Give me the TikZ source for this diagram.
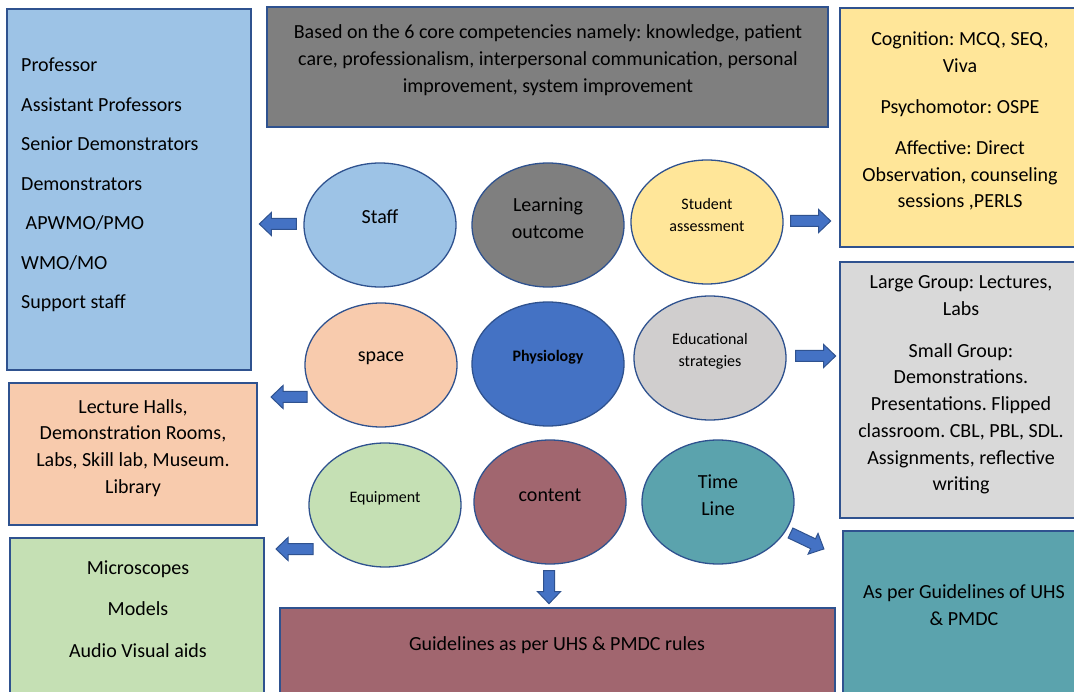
\documentclass[tikz,border=0pt]{standalone}
\usepackage{fontspec}
\setmainfont{Carlito}
\usetikzlibrary{calc,fit,shapes.geometric}
\definecolor{edge}{HTML}{2F528F}
\definecolor{arrowfill}{HTML}{4472C4}
\definecolor{cblue}{HTML}{9DC3E6}
\definecolor{cgray}{HTML}{7F7F7F}
\definecolor{cyellow}{HTML}{FFE699}
\definecolor{clgray}{HTML}{D9D9D9}
\definecolor{cesgray}{HTML}{D0CECE}
\definecolor{corange}{HTML}{F8CBAD}
\definecolor{cgreen}{HTML}{C5E0B4}
\definecolor{cmaroon}{HTML}{A1666F}
\definecolor{cteal}{HTML}{5BA3AD}
\definecolor{cphys}{HTML}{4472C4}
\tikzset{
  box/.style={draw=edge, line width=1.3pt, rectangle, inner sep=0pt},
  ell/.style={draw=edge, line width=1.3pt, ellipse, minimum width=152pt, minimum height=124pt, inner sep=0pt},
  txt/.style={font=\fontsize{20}{26.7}\selectfont\frenchspacing, align=center, inner sep=0pt, text=black},
  stxt/.style={font=\fontsize{16}{22}\selectfont\frenchspacing, align=center, inner sep=0pt, text=black},
  barrow/.style={fill=arrowfill, draw=edge, line width=1pt, line join=miter},
}
\newcommand\blockarr[3]{%
  \begin{scope}[shift={#1}, rotate=#2]
    \draw[barrow] (0,-5.5) -- ({#3-12},-5.5) -- ({#3-12},-11.5) -- (#3,0) -- ({#3-12},11.5) -- ({#3-12},5.5) -- (0,5.5) -- cycle;
  \end{scope}}
\begin{document}
\begin{tikzpicture}[x=1pt,y=-1pt]
\path[use as bounding box] (0,0) rectangle (1074,692);
\clip (0,0) rectangle (1074,692);
\fill[white] (0,0) rectangle (1074,692);

% boxes
\node[box, fill=cblue, fit={(7,9) (251,370)}] (staffbox) {};
\node[box, fill=cgray, fit={(267,7) (828,127)}] (lobox) {};
\node[box, fill=cyellow, fit={(840,8) (1085,247)}] (sabox) {};
\node[box, fill=clgray, fit={(840,262) (1085,518)}] (esbox) {};
\node[box, fill=corange, fit={(9,383) (257,525)}] (spacebox) {};
\node[box, fill=cgreen, fit={(10,538) (264,705)}] (eqbox) {};
\node[box, fill=cmaroon, fit={(280,608) (835,705)}] (contentbox) {};
\node[box, fill=cteal, fit={(843,531) (1085,705)}] (tlbox) {};

% box texts
\node[txt, align=left, anchor=west] (stafftxt) at (21,185) {Professor\\[12.8pt]
Assistant Professors\\[12.8pt]
Senior Demonstrators\\[12.8pt]
Demonstrators\\[12.8pt]
\hspace{4.5pt}APWMO/PMO\\[12.8pt]
WMO/MO\\[12.8pt]
Support staff};
\node[txt] (lotxt) at (548,60) {Based on the 6 core competencies namely: knowledge, patient\\
care, professionalism, interpersonal communication, personal\\
improvement, system improvement};
\node[txt] (satxt) at (960,121) {Cognition: MCQ, SEQ,\\ Viva\\[14.5pt]
Psychomotor: OSPE\\[14.5pt]
Affective: Direct\\ Observation, counseling\\ sessions ,PERLS};
\node[txt] (estxt) at (961,385) {Large Group: Lectures,\\ Labs\\[15pt]
Small Group:\\ Demonstrations.\\ Presentations. Flipped\\ classroom. CBL, PBL, SDL.\\ Assignments, reflective\\ writing};
\node[txt] (spacetxt) at (133,448) {Lecture Halls,\\ Demonstration Rooms,\\ Labs, Skill lab, Museum.\\ Library};
\node[txt] (eqtxt) at (138,609) {Microscopes\\[14.5pt] Models\\[14.5pt] Audio Visual aids};
\node[txt] (contenttxt) at (557,645) {Guidelines as per UHS \& PMDC rules};
\node[txt] (tltxt) at (964,605) {As per Guidelines of UHS\\ \& PMDC};

% ellipses
\node[ell, fill=cblue] (staff) at (380,225) {};
\node[ell, fill=cgray] (lo) at (548,225) {};
\node[ell, fill=cyellow] (sa) at (707,222) {};
\node[ell, fill=corange] (space) at (381,365) {};
\node[ell, fill=cphys] (phys) at (548,364) {};
\node[ell, fill=cesgray] (es) at (710,358) {};
\node[ell, fill=cgreen] (eq) at (385,505) {};
\node[ell, fill=cmaroon] (content) at (550,502) {};
\node[ell, fill=cteal] (tl) at (718,502) {};

% ellipse texts
\node[txt] (stafflbl) at ($(staff.center)+(0,-8)$) {Staff};
\node[txt] (lolbl) at ($(lo.center)+(0,-7)$) {Learning\\ outcome};
\node[stxt] (salbl) at ($(sa.center)+(0,-7)$) {Student\\ assessment};
\node[txt] (spacelbl) at ($(space.center)+(0,-7)$) {space};
\node[stxt, font=\fontsize{16}{22}\selectfont\bfseries] (physlbl) at ($(phys.center)+(0,-7)$) {Physiology};
\node[stxt] (eslbl) at ($(es.center)+(0,-7)$) {Educational\\ strategies};
\node[stxt] (eqlbl) at ($(eq.center)+(0,-7)$) {Equipment};
\node[txt] (contentlbl) at ($(content.center)+(0,-7)$) {content};
\node[txt] (tllbl) at ($(tl.center)+(0,-7)$) {Time\\ Line};

% block arrows
\blockarr{($(staff.west)+(-7,-1)$)}{180}{37}
\blockarr{($(space.center)+(-74,32)$)}{180}{36}
\blockarr{($(eq.center)+(-72,44)$)}{180}{37}
\blockarr{($(sa.east)+(7,-1)$)}{0}{40}
\blockarr{($(es.east)+(9,-2)$)}{0}{40}
\blockarr{($(content.south)+(-1,6)$)}{-90}{33}
\blockarr{($(tl.center)+(72.5,31)$)}{-25.5}{37}
\end{tikzpicture}
\end{document}
